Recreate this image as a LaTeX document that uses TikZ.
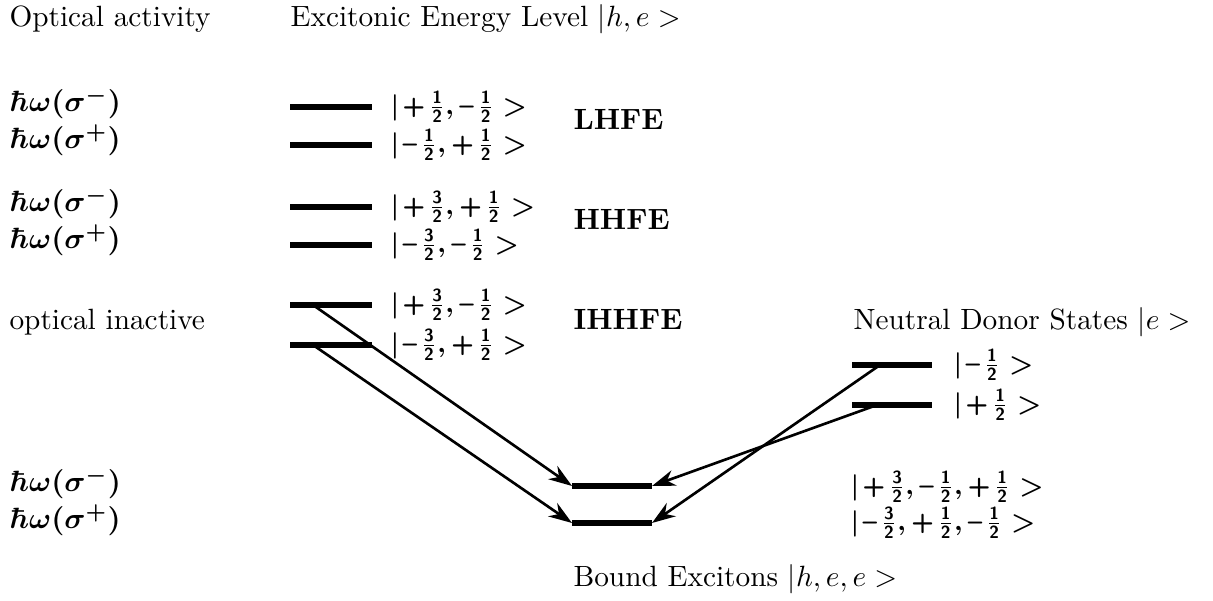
\documentclass[tikz,border=0pt]{standalone}
\usepackage{amsmath}
\usetikzlibrary{arrows.meta}
\newcommand\fr[2]{\tfrac{\mathsf{#1}}{\mathsf{#2}}}
\newcommand\pl{\text{\sffamily\bfseries +}\mkern2mu}
\newcommand\mi{\text{\sffamily\bfseries --}\mkern2mu}
\newcommand\ketlab[1]{{\small\boldmath$\mathsf{|}\mkern2mu#1\;\mathord{>}$}}
\newcommand\hw[1]{{\boldmath$\hbar\omega(\sigma^{#1})$}}
\begin{document}
\begin{tikzpicture}[x=0.012cm,y=-0.012cm,
  level/.style={line width=2.2pt},
  trans/.style={line width=0.9pt,-{Stealth[length=8pt,width=5.5pt]}},
  txt/.style={anchor=base west,inner sep=0pt},
  ketn/.style={anchor=west,inner sep=0pt}]
\useasboundingbox (0,0) rectangle (1213,601);
% headings
\node[txt] (hOpt) at (9,27) {Optical activity};
\node[txt] (hExc) at (290,27) {Excitonic Energy Level $|h,e>$};
\node[txt] (hDon) at (853,330) {Neutral Donor States $|e>$};
\node[txt] (hBnd) at (573,587) {Bound Excitons $|h,e,e>$};
% optical activity labels
\node[txt] (o1) at (9,112) {\hw{-}};
\node[txt] (o2) at (9,149) {\hw{+}};
\node[txt] (o3) at (9,212) {\hw{-}};
\node[txt] (o4) at (9,249) {\hw{+}};
\node[txt] (o5) at (9,330) {optical inactive};
\node[txt] (o6) at (9,492) {\hw{-}};
\node[txt] (o7) at (9,529) {\hw{+}};
% group labels
\node[txt] (gL) at (573,130) {\textbf{LHFE}};
\node[txt] (gH) at (573,230) {\textbf{HHFE}};
\node[txt] (gI) at (573,330) {\textbf{IHHFE}};
% exciton levels
\foreach \n/\y in {L1/107,L2/145,H1/207,H2/245,I1/305,I2/345}{
  \coordinate (\n a) at (290,\y);
  \coordinate (\n b) at (372,\y);
  \draw[level] (\n a) -- (\n b);
}
\node[ketn] (kL1) at (390,107) {\ketlab{\pl\fr12,\mi\fr12}};
\node[ketn] (kL2) at (390,145) {\ketlab{\mi\fr12,\pl\fr12}};
\node[ketn] (kH1) at (390,207) {\ketlab{\pl\fr32,\pl\fr12}};
\node[ketn] (kH2) at (390,245) {\ketlab{\mi\fr32,\mi\fr12}};
\node[ketn] (kI1) at (390,305) {\ketlab{\pl\fr32,\mi\fr12}};
\node[ketn] (kI2) at (390,345) {\ketlab{\mi\fr32,\pl\fr12}};
% donor levels
\coordinate (D1a) at (852,365); \coordinate (D1b) at (932,365);
\coordinate (D2a) at (852,405); \coordinate (D2b) at (932,405);
\draw[level] (D1a) -- (D1b);
\draw[level] (D2a) -- (D2b);
\node[ketn] (kD1) at (953,365) {\ketlab{\mi\fr12}};
\node[ketn] (kD2) at (953,405) {\ketlab{\pl\fr12}};
% bound exciton levels
\coordinate (B1a) at (572,486); \coordinate (B1b) at (652,486);
\coordinate (B2a) at (572,523); \coordinate (B2b) at (652,523);
\draw[level] (B1a) -- (B1b);
\draw[level] (B2a) -- (B2b);
\node[ketn] (kB1) at (850,487) {\ketlab{\pl\fr32,\mi\fr12,\pl\fr12}};
\node[ketn] (kB2) at (850,523) {\ketlab{\mi\fr32,\pl\fr12,\mi\fr12}};
% transitions
\coordinate (sI1) at (313,305);
\coordinate (sI2) at (313,345);
\coordinate (sD1) at (880,365);
\coordinate (sD2) at (877,405);
\draw[trans] (sI1) -- (B1a);
\draw[trans] (sI2) -- (B2a);
\draw[trans] (sD1) -- (B2b);
\draw[trans] (sD2) -- (B1b);
\end{tikzpicture}
\end{document}
